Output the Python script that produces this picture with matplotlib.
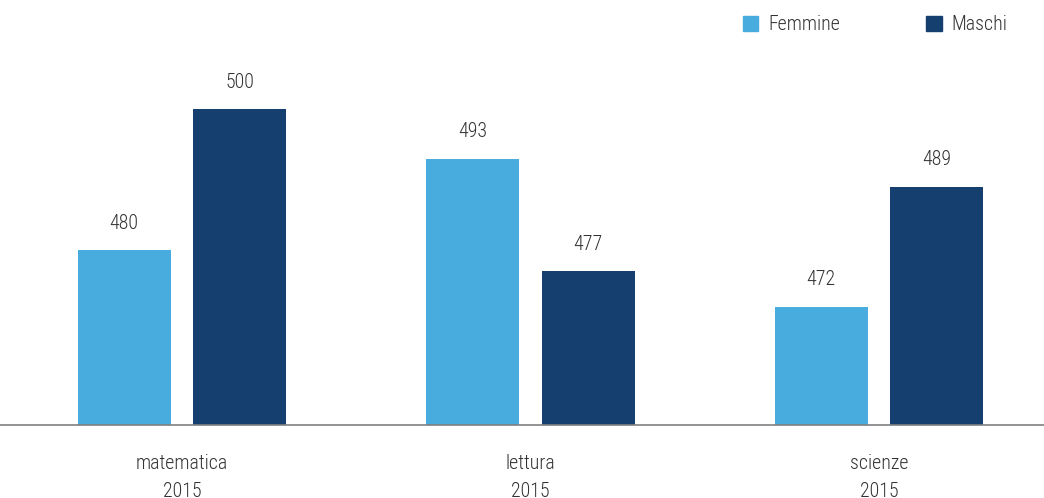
import matplotlib
matplotlib.use("Agg")
import matplotlib.pyplot as plt
from matplotlib.patches import Patch

categories = ["matematica\n2015", "lettura\n2015", "scienze\n2015"]
femmine = [480, 493, 472]
maschi = [500, 477, 489]
series_names = ["Femmine", "Maschi"]

plt.rcParams["font.family"] = ["Roboto Condensed", "Roboto", "DejaVu Sans"]
plt.rcParams["font.weight"] = 300

c_f = "#48ADDE"
c_m = "#143F6F"
text_c = "#333333"
FS = 14.3

fig = plt.figure(figsize=(10.44, 4.98), dpi=100)
ax = fig.add_axes([0, (498 - 425) / 498, 1, 425 / 498])

x = list(range(len(categories)))
w = 0.267
off = 0.166
b1 = ax.bar([i - off for i in x], femmine, width=w, color=c_f)
b2 = ax.bar([i + off for i in x], maschi, width=w, color=c_m)

ax.set_ylim(455.2, 455.2 + 425 / 7.05)
ax.set_xlim(-182 / 348.5, (1044 - 182) / 348.5)

for bars, vals in ((b1, femmine), (b2, maschi)):
    for r, v in zip(bars, vals):
        ax.annotate(str(v), (r.get_x() + r.get_width() / 2, v), xytext=(0, 12.5),
                    textcoords="offset points", ha="center", va="bottom",
                    fontsize=FS, color=text_c)

ax.set_xticks(x)
ax.set_xticklabels(categories, fontsize=FS, color=text_c, linespacing=1.6)
ax.tick_params(axis="x", length=0, pad=21)
ax.set_yticks([])
for s in ("top", "right", "left"):
    ax.spines[s].set_visible(False)
ax.spines["bottom"].set_color("#808080")
ax.spines["bottom"].set_linewidth(1.2)

handles = [Patch(color=c_f), Patch(color=c_m)]
leg = fig.legend(handles, series_names, loc="upper right", ncol=2,
                 bbox_to_anchor=(0.982, 1.005), frameon=False, fontsize=FS,
                 handlelength=0.8, handleheight=0.8, handletextpad=0.5,
                 columnspacing=4.3)
for t in leg.get_texts():
    t.set_color(text_c)

fig.savefig("out.png", dpi=100)
